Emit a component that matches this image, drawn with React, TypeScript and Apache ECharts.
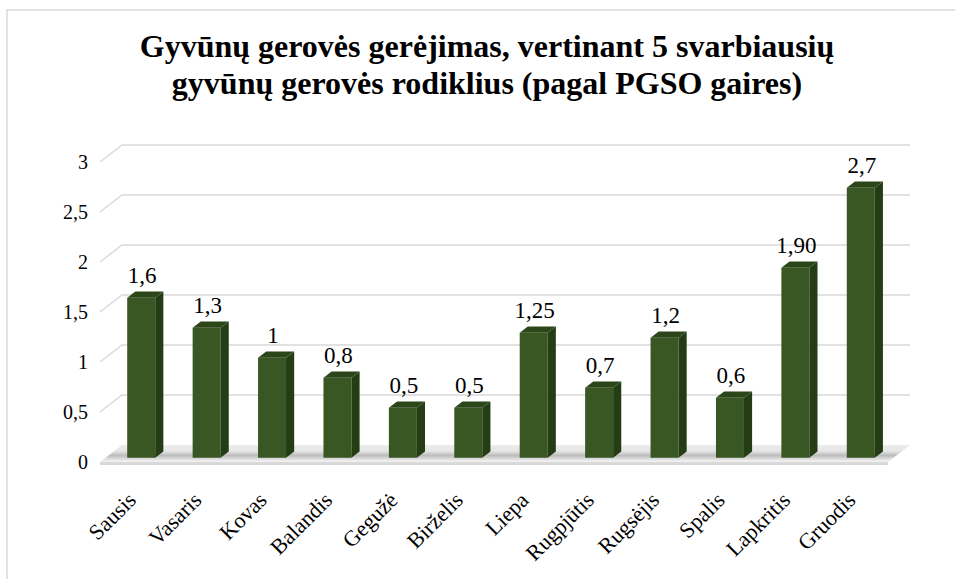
import React, { useEffect, useRef } from "react";
import * as echarts from "echarts";

const categories = [
  "Sausis", "Vasaris", "Kovas", "Balandis", "Gegužė", "Birželis",
  "Liepa", "Rugpjūtis", "Rugsėjis", "Spalis", "Lapkritis", "Gruodis",
];
const values = [1.6, 1.3, 1, 0.8, 0.5, 0.5, 1.25, 0.7, 1.2, 0.6, 1.9, 2.7];
const valueLabels = ["1,6", "1,3", "1", "0,8", "0,5", "0,5", "1,25", "0,7", "1,2", "0,6", "1,90", "2,7"];
const gridTicks = [0.5, 1, 1.5, 2, 2.5, 3];
const titleLines = [
  "Gyvūnų gerovės gerėjimas, vertinant 5 svarbiausių",
  "gyvūnų gerovės rodiklius (pagal PGSO gaires)",
];

const SERIF = "Liberation Serif";
const DX = 22;
const DY = -17;
const F_FRONT = 0.25;
const F_BACK = 0.62;
const SHIFT = DX * F_FRONT; // bar front face lies this far right of the front plane

export default function App() {
  const ref = useRef<HTMLDivElement>(null);
  useEffect(() => {
    if (!ref.current) return;
    const chart = echarts.init(ref.current, undefined, { renderer: "svg" });
    const option: any = {
      animation: false,
      backgroundColor: "#ffffff",
      textStyle: { fontFamily: SERIF },
      title: {
        text: titleLines.join("\n"),
        left: 482,
        top: 22,
        textAlign: "center",
        textStyle: {
          fontFamily: SERIF,
          fontSize: 32,
          fontWeight: "bold",
          color: "#000000",
          lineHeight: 37,
        },
      },
      graphic: [
        {
          type: "rect",
          shape: { x: 7, y: 10, width: 1000, height: 700 },
          style: { fill: "none", stroke: "#d9d9d9", lineWidth: 1.5 },
          silent: true,
        },
      ],
      grid: { left: 103 + SHIFT, top: 162, width: 785, height: 300 },
      xAxis: {
        type: "category",
        data: categories,
        axisLine: { show: false },
        axisTick: { show: false },
        axisLabel: {
          rotate: 45,
          interval: 0,
          margin: 25,
          padding: [0, 13, 0, 0],
          fontFamily: SERIF,
          fontSize: 22,
          color: "#000000",
        },
      },
      yAxis: {
        type: "value",
        min: 0,
        max: 3,
        interval: 0.5,
        axisLine: { show: false },
        axisTick: { show: false },
        splitLine: { show: false },
        axisLabel: {
          margin: 15 + SHIFT,
          fontFamily: SERIF,
          fontSize: 20,
          color: "#000000",
          formatter: (v: number) => String(v).replace(".", ","),
        },
      },
      series: [
        {
          type: "custom",
          silent: true,
          z: 1,
          data: gridTicks.map((v) => [0, v]),
          renderItem: (params: any, api: any) => {
            const cs = params.coordSys;
            const y = api.coord([0, api.value(1)])[1];
            const left = cs.x - SHIFT - 3;
            const right = cs.x - SHIFT + cs.width;
            return {
              type: "polyline",
              shape: {
                points: [
                  [left, y],
                  [left + DX, y + DY],
                  [right + DX, y + DY],
                ],
              },
              style: { stroke: "#d9d9d9", lineWidth: 1.5, fill: "none" },
            };
          },
        },
        {
          type: "custom",
          silent: true,
          z: 2,
          data: [[0, 0]],
          renderItem: (params: any, api: any) => {
            const cs = params.coordSys;
            const y = api.coord([0, 0])[1];
            const left = cs.x - SHIFT - 3;
            const right = cs.x - SHIFT + cs.width;
            return {
              type: "group",
              children: [
                {
                  type: "polygon",
                  shape: {
                    points: [
                      [left, y],
                      [left + DX, y + DY],
                      [right + DX, y + DY],
                      [right, y],
                    ],
                  },
                  style: {
                    fill: new echarts.graphic.LinearGradient(0, 0, 0, 1, [
                      { offset: 0, color: "#ececec" },
                      { offset: 0.35, color: "#e6e6e6" },
                      { offset: 0.62, color: "#bcbcbc" },
                      { offset: 0.85, color: "#e2e2e2" },
                      { offset: 1, color: "#f4f4f4" },
                    ]),
                  },
                },
                {
                  type: "polygon",
                  shape: {
                    points: [
                      [left, y],
                      [right, y],
                      [right, y + 3],
                      [left, y + 3],
                    ],
                  },
                  style: { fill: "#d9d9d9" },
                },
              ],
            };
          },
        },
        {
          type: "custom",
          silent: true,
          z: 3,
          data: values.map((v, i) => [i, v]),
          renderItem: (params: any, api: any) => {
            const i = api.value(0);
            const v = api.value(1);
            const base = api.coord([i, 0]);
            const top = api.coord([i, v]);
            const bw = 28;
            const fy = DY * F_FRONT;
            const dx = DX * (F_BACK - F_FRONT);
            const dy = DY * (F_BACK - F_FRONT);
            const x0 = base[0] - bw / 2;
            const x1 = x0 + bw;
            const yb = base[1] + fy;
            const yt = top[1] + fy;
            return {
              type: "group",
              children: [
                {
                  type: "polygon",
                  shape: { points: [[x0, yb], [x1, yb], [x1, yt], [x0, yt]] },
                  style: { fill: "#385723" },
                },
                {
                  type: "polygon",
                  shape: { points: [[x1, yb], [x1 + dx, yb + dy], [x1 + dx, yt + dy], [x1, yt]] },
                  style: { fill: "#243d15" },
                },
                {
                  type: "polygon",
                  shape: { points: [[x0, yt], [x1, yt], [x1 + dx, yt + dy], [x0 + dx, yt + dy]] },
                  style: { fill: "#2b4719" },
                },
                {
                  type: "text",
                  style: {
                    text: valueLabels[i],
                    x: (x0 + x1) / 2 + 1,
                    y: yt + dy - 4,
                    textAlign: "center",
                    textVerticalAlign: "bottom",
                    fontFamily: SERIF,
                    fontSize: 23,
                    fill: "#000000",
                  },
                },
              ],
            };
          },
        },
      ],
    };
    chart.setOption(option);
    return () => chart.dispose();
  }, []);
  return (
    <div
      ref={ref}
      style={{ position: "absolute", left: 0, top: 0, width: 955, height: 579 }}
    />
  );
}
